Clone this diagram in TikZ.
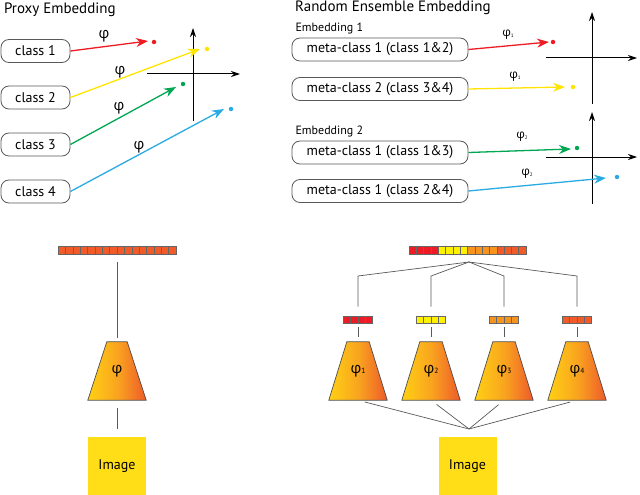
\documentclass[tikz,border=0pt]{standalone}
\usepackage{fontspec}
\setmainfont{PT Sans}
\newfontfamily\phifont{Open Sans}
\usetikzlibrary{arrows.meta}

\definecolor{cR}{HTML}{ED1C24}
\definecolor{cY}{HTML}{FFF200}
\definecolor{cO}{HTML}{F7941D}
\definecolor{cOR}{HTML}{F15A29}
\definecolor{lineY}{HTML}{FFE400}
\definecolor{cG}{HTML}{00A651}
\definecolor{cB}{HTML}{29ABE2}
\definecolor{netY}{HTML}{FFD014}
\definecolor{netM}{HTML}{F9A51F}
\definecolor{netR}{HTML}{EE5A2A}
\definecolor{imgY}{HTML}{FFDE17}

\newcommand{\phis}{{\phifont φ}}
\newcommand{\phisub}[2]{{\phifont φ}{\fontsize{#2}{#2}\selectfont\raisebox{-0.5pt}{#1}}}

\begin{document}
\begin{tikzpicture}[x=1pt, y=-1pt, font=\fontsize{14}{16}\selectfont,
  classbox/.style={draw=black!65, rounded corners=8pt, minimum height=23pt, inner sep=0pt, line width=0.8pt},
  emb/.style={line width=1.3pt, -{Stealth[length=12pt,width=9pt]}},
  axis/.style={line width=1pt, -{Stealth[length=9pt,width=6pt]}},
  dot/.style={circle, fill, inner sep=0pt, minimum size=4.5pt},
  wire/.style={draw=black!65, line width=0.7pt},
  cell/.style={draw=black!60, line width=0.5pt},
  netbox/.style={minimum width=58pt, minimum height=58pt, inner sep=0pt},
  netfill/.style={draw=black!70, line width=0.7pt, left color=netY, right color=netR, middle color=netM},
  imgbox/.style={fill=imgY, minimum width=58pt, minimum height=58pt, inner sep=0pt}]
\useasboundingbox (0,0) rectangle (640,495);

% ---- proxy embedding
\node[anchor=west, font=\fontsize{15}{17}\selectfont] (ttl) at (0.5,10) {Proxy Embedding};
\foreach \i/\y in {1/51,2/97.5,3/144.5,4/191.5}
  \node[classbox, minimum width=69pt] (c\i) at (35.5,\y) {class \i};

\draw[axis] (193,121) -- (193,28);
\draw[axis] (147,74) -- (240,74);

\coordinate (t1) at (148,41);
\coordinate (t2) at (200,49);
\coordinate (t3) at (176,87);
\coordinate (t4) at (224,109);
\node[dot, cR] (d1) at (154,42) {};
\node[dot, lineY] (d2) at (207,49) {};
\node[dot, cG] (d3) at (183,84) {};
\node[dot, cB] (d4) at (231,109) {};
\draw[emb, cR] (c1.east) -- (t1);
\draw[emb, lineY] (c2.east) -- (t2);
\draw[emb, cG] (c3.east) -- (t3);
\draw[emb, cB] (c4.east) -- (t4);
\node[font=\fontsize{15}{17}\selectfont] (p1) at (104,36) {\phis};
\node[font=\fontsize{15}{17}\selectfont] (p2) at (120,72) {\phis};
\node[font=\fontsize{15}{17}\selectfont] (p3) at (119,108) {\phis};
\node[font=\fontsize{15}{17}\selectfont] (p4) at (139,147) {\phis};

% ---- random ensemble embedding
\node[anchor=west, font=\fontsize{15}{17}\selectfont] (ttr) at (291.5,8) {Random Ensemble Embedding};
\node[anchor=west, font=\fontsize{12}{14}\selectfont] (e1) at (292,29) {Embedding 1};
\node[anchor=west, font=\fontsize{12}{14}\selectfont] (e2) at (292,131) {Embedding 2};
\node[classbox, minimum width=176pt] (m1) at (380,49.5) {meta-class 1 (class 1\&2)};
\node[classbox, minimum width=176pt] (m2) at (380,89) {meta-class 2 (class 3\&4)};
\node[classbox, minimum width=176pt] (m3) at (380,152.5) {meta-class 1 (class 1\&3)};
\node[classbox, minimum width=176pt] (m4) at (380,191) {meta-class 1 (class 2\&4)};

\draw[axis] (592,104) -- (592,12);
\draw[axis] (546,58) -- (637,58);
\draw[axis] (592,204) -- (592,112);
\draw[axis] (546,157) -- (637,157);

\coordinate (s1) at (549,42);
\coordinate (s2) at (565,87);
\coordinate (s3) at (571,149);
\coordinate (s4) at (606,178);
\node[dot, cR] (f1) at (553,42) {};
\node[dot, lineY] (f2) at (573,87) {};
\node[dot, cG] (f3) at (577,148) {};
\node[dot, cB] (f4) at (617,177) {};
\draw[emb, cR] (m1.east) -- (s1);
\draw[emb, lineY] (m2.east) -- (s2);
\draw[emb, cG] (m3.east) -- (s3);
\draw[emb, cB] (m4.east) -- (s4);
\node[font=\fontsize{12}{13}\selectfont] (q1) at (508,35) {\phisub{1}{5}};
\node[font=\fontsize{12}{13}\selectfont] (q2) at (515,77) {\phisub{1}{5}};
\node[font=\fontsize{12}{13}\selectfont] (q3) at (522,137) {\phisub{2}{5}};
\node[font=\fontsize{12}{13}\selectfont] (q4) at (527,174) {\phisub{2}{5}};

% ---- single network
\node[minimum width=118pt, minimum height=8pt, inner sep=0pt] (vec) at (117,250) {};
\foreach \k in {0,...,15}
  \draw[cell, fill=cOR] ({58+\k*7.375},246) rectangle ++(7.375,8);
\node[netbox] (net) at (117,371) {};
\path[netfill] (net.south west) -- ([xshift=19pt]net.north west)
  -- ([xshift=-19pt]net.north east) -- (net.south east) -- cycle;
\node[font=\fontsize{15}{17}\selectfont] at (net) {\phis};
\node[imgbox] (img) at (117,466) {Image};
\draw[wire, shorten <=8pt, shorten >=4pt] (vec.south) -- (net.north);
\draw[wire, shorten <=8pt, shorten >=8pt] (net.south) -- (img.north);

% ---- ensemble of networks
\node[minimum width=117pt, minimum height=8pt, inner sep=0pt] (evec) at (467.5,250) {};
\foreach \c [count=\k from 0] in {cR,cR,cR,cR,cY,cY,cY,cY,cO,cO,cO,cO,cOR,cOR,cOR,cOR}
  \draw[cell, fill=\c] ({409+\k*7.3125},246) rectangle ++(7.3125,8);
\coordinate (split) at (469,262);
\coordinate (merge) at (469,429);
\node[imgbox] (eimg) at (467.5,466) {Image};
\foreach \x/\c [count=\i] in {358/cR,431/cY,504/cO,577/cOR} {
  \node[minimum width=29.2pt, minimum height=7.5pt, inner sep=0pt] (sv\i) at (\x,319.5) {};
  \foreach \k in {0,...,3}
    \draw[cell, fill=\c] ({\x-14.6+\k*7.3},316) rectangle ++(7.3,7.5);
  \node[netbox] (net\i) at (\x,371) {};
  \path[netfill] (net\i.south west) -- ([xshift=18pt]net\i.north west)
    -- ([xshift=-18pt]net\i.north east) -- (net\i.south east) -- cycle;
  \node[font=\fontsize{15}{17}\selectfont] at (net\i) {\phisub{\i}{7.5}};
  \draw[wire, shorten >=9pt] (split) -- (\x,276) -- (sv\i.north);
  \draw[wire, shorten <=4pt, shorten >=5pt] (sv\i.south) -- (net\i.north);
  \draw[wire, shorten <=7pt] (net\i.south) -- (merge);
}
\end{tikzpicture}
\end{document}
